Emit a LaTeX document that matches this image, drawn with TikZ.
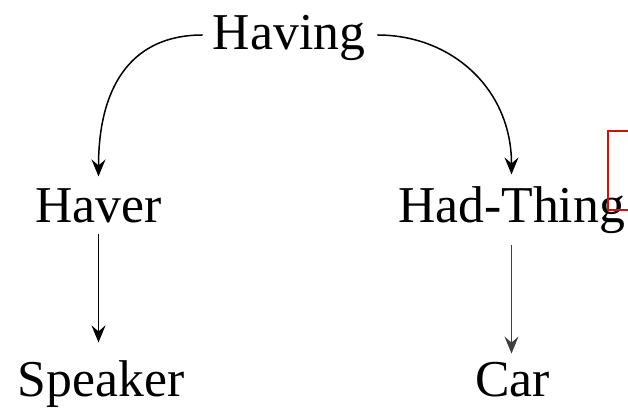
\documentclass[tikz,border=0pt]{standalone}
\usepackage{fontspec}
\setmainfont{Liberation Serif}
\usetikzlibrary{arrows.meta}
\definecolor{boxred}{RGB}{204,20,10}
\begin{document}
\begin{tikzpicture}[x=1pt,y=1pt,
  lbl/.style={inner sep=0pt,anchor=base,font=\fontsize{51.7}{60}\selectfont},
  conn/.style={line width=1.5pt,-{Stealth[length=17pt,width=14pt,inset=6pt]}}]
\useasboundingbox (0,0) rectangle (628,411);
\node[lbl] (having) at (289,361) {Having};
\node[lbl] (haver) at (98.5,188) {Haver};
\node[lbl] (hadthing) at (511.5,188) {Had-Thing};
\node[lbl] (speaker) at (101,14) {Speaker};
\node[lbl] (car) at (512.5,14) {Car};
\draw[conn] ([shift={(-10,15)}]having.base west) .. controls +(-75,0) and +(0,85) .. ([yshift=12.5]haver.north);
\draw[conn] ([shift={(12,15)}]having.base east) .. controls +(75,0) and +(0,85) .. ([yshift=12.5]hadthing.north);
\draw[conn] ([yshift=-10]haver.south) -- ([yshift=18.5]haver.south |- speaker.north);
\draw[conn,black!75] ([yshift=-10.7]hadthing.south) -- ([yshift=9]hadthing.south |- car.north);
\draw[boxred,line width=1.5pt] (630,280) -- (608,280) -- (608,201) -- (630,201);
\end{tikzpicture}
\end{document}
